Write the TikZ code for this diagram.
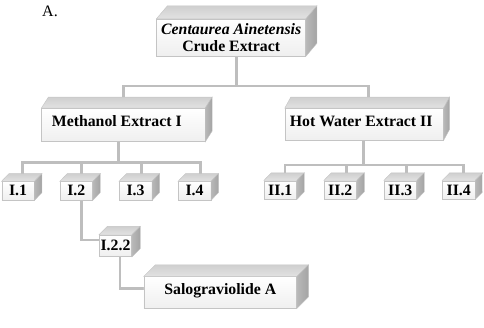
\documentclass[tikz,border=0pt]{standalone}
\usepackage{fontspec}
\setmainfont{Liberation Serif}
\definecolor{linkgray}{HTML}{BEBEBE}
\definecolor{edgegray}{HTML}{C4C4C4}
\definecolor{frontlow}{HTML}{EFEFEF}
\definecolor{topback}{HTML}{CFCFCF}
\definecolor{topfront}{HTML}{E2E2E2}
\definecolor{sidefront}{HTML}{B8B8B8}
\definecolor{sideback}{HTML}{A4A4A4}
\pgfdeclarelayer{links}
\pgfsetlayers{links,main}
% top and right faces of a box whose front face is node #1, depth (#2,#3)
\newcommand\cubefaces[3]{%
  \shade[top color=topback, bottom color=topfront, draw=edgegray, line width=0.4pt]
    (#1.north west) -- ++(#2,-#3) -- ([shift={(#2,-#3)}]#1.north east) -- (#1.north east) -- cycle;
  \shade[left color=sidefront, right color=sideback, draw=edgegray, line width=0.4pt]
    (#1.north east) -- ++(#2,-#3) -- ([shift={(#2,-#3)}]#1.south east) -- (#1.south east) -- cycle;
}
\begin{document}
\begin{tikzpicture}[x=1pt,y=-1pt,
  link/.style={draw=linkgray, line width=2.6pt},
  front/.style={draw=edgegray, line width=0.5pt, top color=white, bottom color=frontlow,
    inner sep=0pt, align=center, font=\fontsize{15.8}{17.7}\selectfont\bfseries},
  big/.style={front, minimum height=#1},
  small/.style={front, minimum width=32.5pt, minimum height=18.5pt},
]
\useasboundingbox (0,0) rectangle (484,327);

\node[font=\fontsize{16}{18}\selectfont] (lbl) at (50,11) {A.};

% root
\node[big=37pt, minimum width=149pt] (crude) at (231.2,37.5)
  {\textit{Centaurea Ainetensis}\\Crude Extract};
\cubefaces{crude}{11}{13}

% extracts
\node[big=33.4pt, minimum width=163.3pt] (meth) at (123.3,125)
  {\hspace*{-13pt}\raisebox{8pt}{Methanol Extract I}};
\cubefaces{meth}{7}{11}
\node[big=31.7pt, minimum width=158.3pt] (hot) at (364.2,124.2)
  {\hspace*{-6pt}\raisebox{6pt}{Hot Water Extract II}};
\cubefaces{hot}{6}{11}

% fractions
\foreach \n/\x in {1/18,2/76.3,3/135.5,4/194.5}{
  \node[small] (i\n) at (\x,190.8) {I.\n};
  \cubefaces{i\n}{7.5}{7.7}
}
\foreach \n/\x in {1/280.3,2/340.3,3/400.3,4/458.7}{
  \node[small] (ii\n) at (\x,190) {II.\n};
  \cubefaces{ii\n}{7.5}{7.7}
}

% sub-fraction and isolated compound
\node[front, minimum width=32.4pt, minimum height=21.7pt] (i22) at (115.5,245.8) {I.2.2};
\cubefaces{i22}{8.3}{8.3}
\node[big=31.6pt, minimum width=152.7pt] (sal) at (220.3,292.5)
  {\raisebox{6pt}{Salograviolide A}};
\cubefaces{sal}{11.6}{11.7}

% connectors
\begin{pgfonlayer}{links}
  % level rails
  \coordinate (bus0) at (0,86);
  \coordinate (bus1) at (0,162.7);
  \coordinate (bus2) at (0,165);
  % tap points on the top faces
  \coordinate (tmeth) at ([yshift=11pt]meth.north);
  \coordinate (thot)  at ([xshift=4pt,yshift=11pt]hot.north);
  \coordinate (ti1) at ([xshift=4.7pt,yshift=7.7pt]i1.north);
  \coordinate (ti2) at ([xshift=5.4pt,yshift=7.7pt]i2.north);
  \coordinate (ti3) at ([xshift=6.2pt,yshift=7.7pt]i3.north);
  \coordinate (ti4) at ([xshift=6.2pt,yshift=7.7pt]i4.north);
  \coordinate (tii1) at ([xshift=4.7pt,yshift=7.7pt]ii1.north);
  \coordinate (tii2) at ([xshift=6.4pt,yshift=7.7pt]ii2.north);
  \coordinate (tii3) at ([xshift=6.4pt,yshift=7.7pt]ii3.north);
  \coordinate (tii4) at ([xshift=4.6pt,yshift=7.7pt]ii4.north);

  \draw[link] ([xshift=5.5pt]crude.south) -- ([xshift=5.5pt]crude.south |- bus0);
  \draw[link] (tmeth) -- (tmeth |- bus0) -- (thot |- bus0) -- (thot);

  \draw[link] ([xshift=-5pt]meth.south) -- ([xshift=-5pt]meth.south |- bus1);
  \draw[link] (ti1) -- (ti1 |- bus1) -- (ti4 |- bus1) -- (ti4);
  \draw[link] (ti2) -- (ti2 |- bus1);
  \draw[link] (ti3) -- (ti3 |- bus1);

  \draw[link] ([xshift=-1pt]hot.south) -- ([xshift=-1pt]hot.south |- bus2);
  \draw[link] (tii1) -- (tii1 |- bus2) -- (tii4 |- bus2) -- (tii4);
  \draw[link] (tii2) -- (tii2 |- bus2);
  \draw[link] (tii3) -- (tii3 |- bus2);

  \draw[link] ([xshift=5.4pt]i2.south) |- ([yshift=6pt]i22.west);
  \draw[link] ([xshift=4.5pt]i22.south) |- ([yshift=4pt]sal.west);
\end{pgfonlayer}
\end{tikzpicture}
\end{document}
